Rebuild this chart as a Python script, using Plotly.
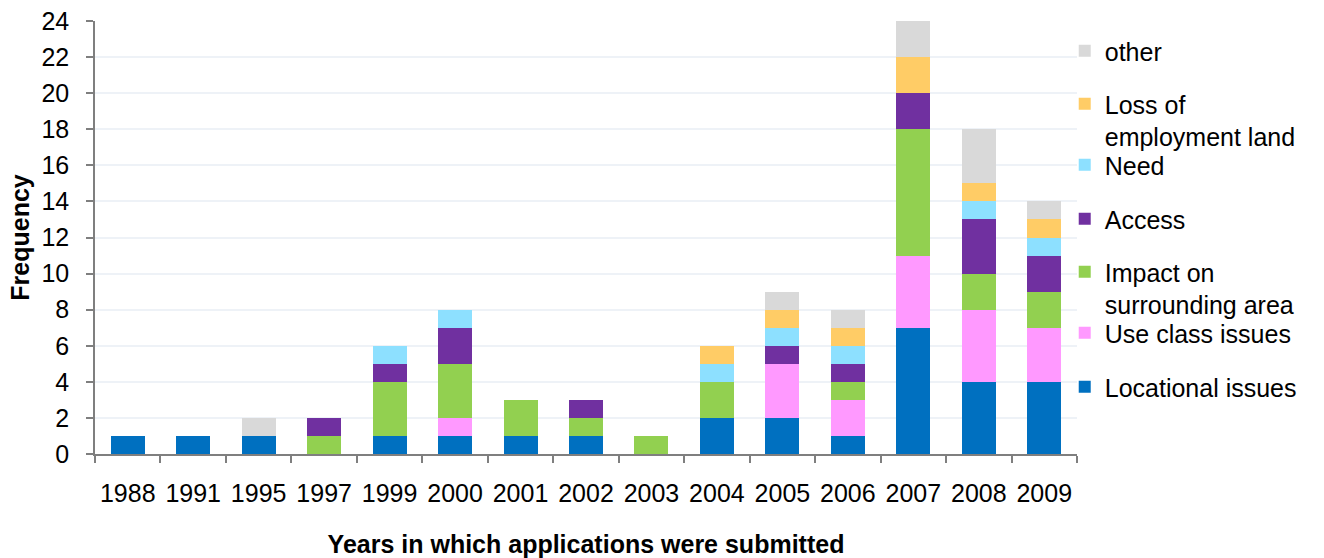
import plotly.graph_objects as go

years = ["1988", "1991", "1995", "1997", "1999", "2000", "2001", "2002",
         "2003", "2004", "2005", "2006", "2007", "2008", "2009"]

locational = [1, 1, 1, 0, 1, 1, 1, 1, 0, 2, 2, 1, 7, 4, 4]
use_class = [0, 0, 0, 0, 0, 1, 0, 0, 0, 0, 3, 2, 4, 4, 3]
impact = [0, 0, 0, 1, 3, 3, 2, 1, 1, 2, 0, 1, 7, 2, 2]
access = [0, 0, 0, 1, 1, 2, 0, 1, 0, 0, 1, 1, 2, 3, 2]
need = [0, 0, 0, 0, 1, 1, 0, 0, 0, 1, 1, 1, 0, 1, 1]
loss_employment = [0, 0, 0, 0, 0, 0, 0, 0, 0, 1, 1, 1, 2, 1, 1]
other = [0, 0, 1, 0, 0, 0, 0, 0, 0, 0, 1, 1, 2, 3, 1]

series = [
    ("Locational issues", locational, "#0070C0"),
    ("Use class issues", use_class, "#FF99FF"),
    ("Impact on<br>surrounding area", impact, "#92D050"),
    ("Access", access, "#7030A0"),
    ("Need", need, "#8DE0FF"),
    ("Loss of<br>employment land", loss_employment, "#FFCC66"),
    ("other", other, "#D9D9D9"),
]

FONT = "Liberation Sans, Arial, sans-serif"
FS = 25

# plot area in pixels (used to place the legend entries)
PLOT_TOP, PLOT_BOTTOM = 21, 454
# pixel top of each legend entry, bottom series first
entry_tops = [364, 310, 249, 196, 142, 81, 28]

fig = go.Figure()
legend_layout = {}
for i, (name, vals, color) in enumerate(series):
    key = "legend" if i == 0 else f"legend{i + 1}"
    fig.add_trace(go.Bar(
        x=years, y=vals, name=name, legend=key,
        marker=dict(color=color, line=dict(width=0)),
        width=0.52,
    ))
    legend_layout[key] = dict(
        x=0.9875, xanchor="left",
        y=(PLOT_BOTTOM - entry_tops[i]) / (PLOT_BOTTOM - PLOT_TOP),
        yanchor="top", valign="top",
        font=dict(size=FS, family=FONT, color="black"),
        bgcolor="rgba(0,0,0,0)", itemwidth=30,
    )

fig.update_layout(
    barmode="stack",
    width=1324, height=558,
    margin=dict(l=95, r=247, t=PLOT_TOP, b=558 - PLOT_BOTTOM),
    plot_bgcolor="white", paper_bgcolor="white",
    font=dict(family=FONT, size=FS, color="black"),
    showlegend=True,
    **legend_layout,
    xaxis=dict(
        type="category", showgrid=False, automargin=False,
        showline=True, linecolor="#7F7F7F", linewidth=1.5,
        ticks="outside", tickson="boundaries", ticklen=7,
        tickcolor="#7F7F7F", tickwidth=1.5,
        ticklabelstandoff=16,
        tickfont=dict(size=FS),
        title=dict(text="<b>Years in which applications were submitted</b>",
                   font=dict(size=FS), standoff=32),
    ),
    yaxis=dict(
        range=[0, 24], dtick=2, automargin=False,
        showgrid=True, gridcolor="#EEF2F7", gridwidth=1.5,
        showline=True, linecolor="#7F7F7F", linewidth=1.5,
        ticks="outside", ticklen=7, tickcolor="#7F7F7F", tickwidth=1.5,
        ticklabelstandoff=12,
        tickfont=dict(size=FS), zeroline=False,
        title=dict(text="<b>Frequency</b>", font=dict(size=FS), standoff=5),
    ),
)

fig.write_html("out.html")
